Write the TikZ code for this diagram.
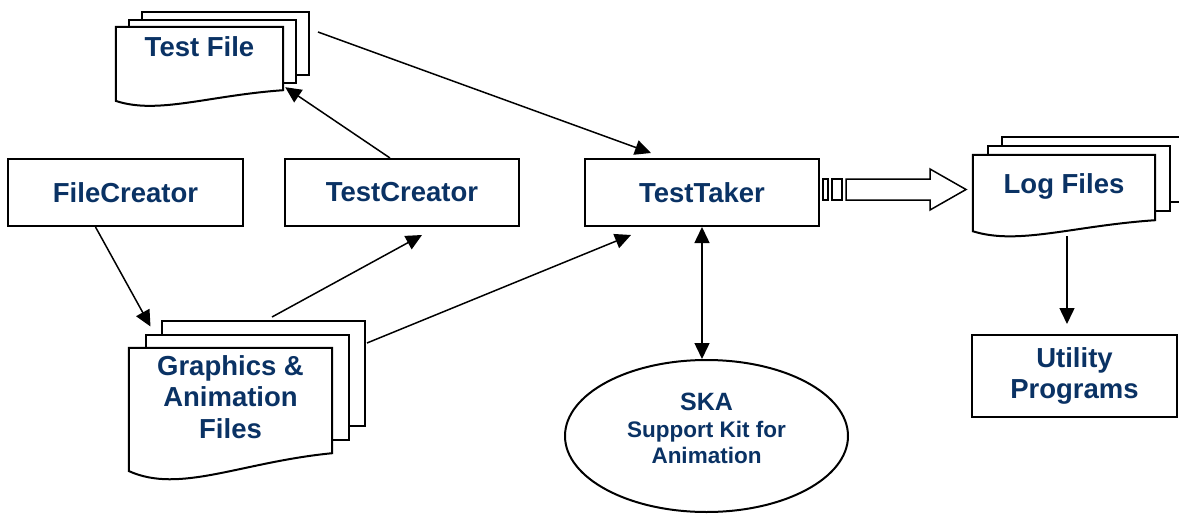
\documentclass[tikz,border=0pt]{standalone}
\usepackage{fontspec}
\setmainfont{Liberation Sans}
\usetikzlibrary{positioning,calc,shapes.geometric,arrows.meta}
\definecolor{navy}{RGB}{10,50,100}
\tikzset{%
  txt/.style = {text=navy, font=\fontsize{27.5}{31.5}\selectfont\bfseries,
        align=center},
  box/.style = {rectangle,draw,line width=2pt,fill=white,
        minimum width=235pt,minimum height=67pt,txt},
  page/.style = {rectangle,draw,line width=2pt,fill=white,inner sep=0pt},
  arr/.style = {-{Triangle[length=16pt,width=15pt]},line width=1.5pt},
  dblarr/.style = {{Triangle[length=16pt,width=15pt]}-{Triangle[length=16pt,width=15pt]},
        line width=1.5pt}
}
% stack of three pages: name, centre, width, height, page shift, text options, text
\newcommand{\docstack}[7]{%
  \node[page, minimum width=#3pt, minimum height=#4pt] (#1-3) at ($(#2)+2*(#5)$) {};
  \node[page, minimum width=#3pt, minimum height=#4pt] (#1-2) at ($(#2)+(#5)$) {};
  \node[inner sep=0pt, minimum width=#3pt, minimum height=#4pt] (#1) at (#2) {};
  \draw[line width=2pt, fill=white] (#1.south east) -- (#1.north east) -- (#1.north west)
    -- ($(#1.south west)+(0,0.17*#4)$)
    .. controls ($(#1.south west)!0.25!(#1.south east)+(0,0.39*#4)$)
    and ($(#1.south west)!0.55!(#1.south east)+(0,0.085*#4)$) .. (#1.south east) -- cycle;
  \node[txt, #6] (#1-txt) at (#1) {#7};
}

\begin{document}
\begin{tikzpicture}[x=1pt,y=-1pt]
  \useasboundingbox (0,0) rectangle (1179,514);

  \node[box] (fc) at (125.5,192.5) {FileCreator};
  \node[box, minimum width=234pt] (tc) [right=40pt of fc] {TestCreator};
  \node[box, minimum width=234pt] (tt) [right=64pt of tc] {TestTaker};
  \node[box, minimum width=205pt, minimum height=82pt] (up) at (1074.5,376) {Utility\\Programs};
  \node[ellipse, draw, line width=2pt, inner sep=0pt,
        minimum width=283pt, minimum height=152pt] (ska) at (706.5,436) {};
  \node[txt, font=\fontsize{22.5}{26}\selectfont\bfseries] (skat) at ([yshift=8pt]ska.center)
        {{\fontsize{25}{28}\selectfont SKA}\\[1pt]Support Kit for\\Animation};

  \docstack{tf}{199.5,58.5}{167}{63}{13,-7.5}{yshift=11.5pt}{Test File}
  \docstack{ga}{230.5,400.5}{203}{105}{16.5,-13.5}{yshift=3.5pt}{Graphics \&\\Animation\\Files}
  \docstack{lf}{1064,187.5}{182}{65}{14.5,-9}{yshift=1.5pt}{Log Files}

  % connectors
  \draw[arr] ([shift={(8,-11.5)}]tf-3.east) -- ([shift={(-51,-5)}]tt.north);
  \draw[arr] ([xshift=-12pt]tc.north) -- ([shift={(2,-3)}]tf.south east);
  \draw[arr] ([xshift=-30pt]fc.south) -- ([shift={(6,-7)}]ga-2.north west);
  \draw[arr] ([shift={(8.5,-3)}]ga-3.north) -- ([shift={(20,8)}]tc.south);
  \draw[arr] ([shift={(1,-30.5)}]ga-3.east) -- ([shift={(47,8)}]tt.south west);
  \draw[dblarr] (tt.south) -- (tt.south |- ska.north);
  \coordinate (lfo) at ([shift={(3,16)}]lf.south);
  \draw[arr, shorten >=10pt] (lfo) -- (lfo |- up.north);

  % striped block arrow to the log files
  \begin{scope}[shift={(tt.east)}, line width=1.5pt]
    \draw (3,-13.5) rectangle (8,7.5);
    \draw (12,-13.5) rectangle (22,7.5);
    \draw (26,-13.5) -- (110,-13.5) -- (110,-23.5) -- (146,-3) -- (110,17.5)
      -- (110,7.5) -- (26,7.5) -- cycle;
  \end{scope}
\end{tikzpicture}
\end{document}
